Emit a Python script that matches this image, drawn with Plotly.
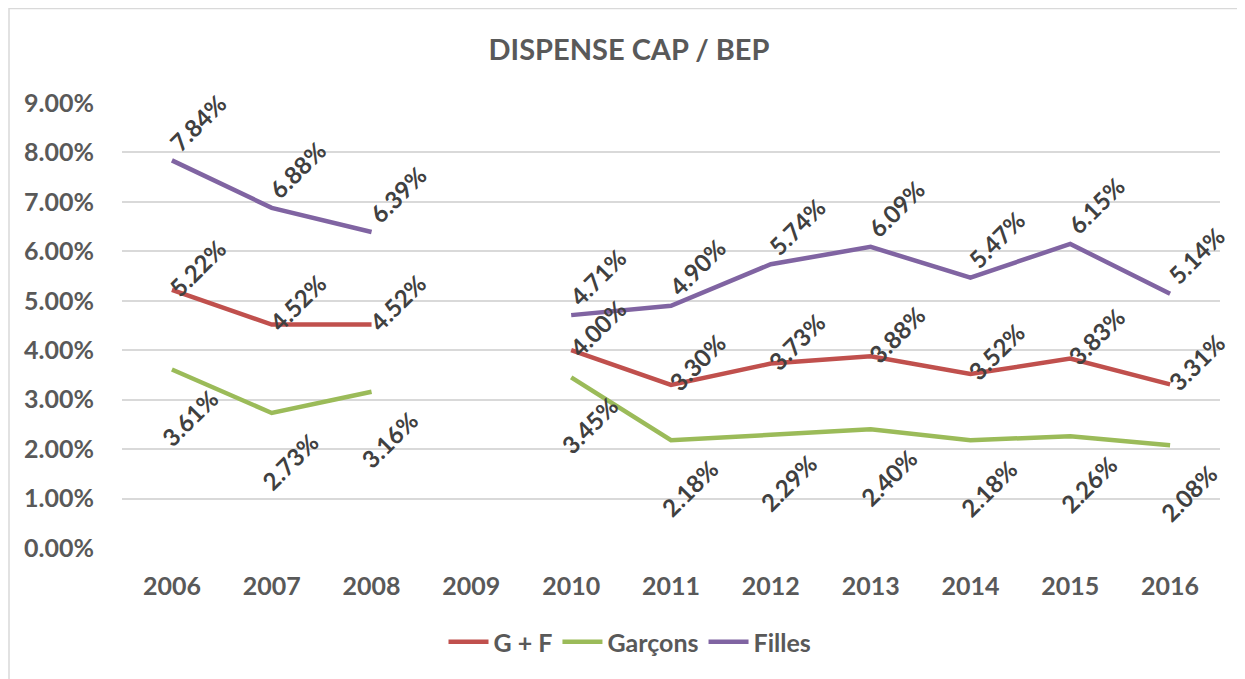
import plotly.graph_objects as go

years = ["2006", "2007", "2008", "2009", "2010", "2011", "2012", "2013", "2014", "2015", "2016"]
gf = [5.22, 4.52, 4.52, None, 4.00, 3.30, 3.73, 3.88, 3.52, 3.83, 3.31]
garcons = [3.61, 2.73, 3.16, None, 3.45, 2.18, 2.29, 2.40, 2.18, 2.26, 2.08]
filles = [7.84, 6.88, 6.39, None, 4.71, 4.90, 5.74, 6.09, 5.47, 6.15, 5.14]
y_ticks = [0, 1, 2, 3, 4, 5, 6, 7, 8, 9]

series = [
    ("G + F", gf, "#C0504D", (26, -22)),
    ("Garçons", garcons, "#9BBB59", (18, 48)),
    ("Filles", filles, "#8064A2", (26, -38)),
]

FONT = "Lato, 'Open Sans', sans-serif"
W, H = 1237, 671  # page body has an 8px margin
L, R, T, B = 114, 25, 95, 131
PW, PH = W - L - R, H - T - B

fig = go.Figure()
annotations = []
for name, vals, color, (dx, dy) in series:
    fig.add_trace(go.Scatter(
        x=years, y=vals, name=name, mode="lines",
        line=dict(color=color, width=4.5), connectgaps=False,
    ))
    for i, yv in enumerate(vals):
        if yv is None:
            continue
        annotations.append(dict(
            x=i, y=yv, xref="x", yref="y", text=f"{yv:.2f}%",
            showarrow=False, textangle=-45, xanchor="center", yanchor="middle",
            xshift=dx, yshift=-dy,
            font=dict(family=FONT, size=24, color="#404040", weight="bold"),
        ))

fig.update_layout(
    width=W, height=H,
    paper_bgcolor="white", plot_bgcolor="white",
    margin=dict(l=L, r=R, t=T, b=B),
    title=dict(text="<b>DISPENSE CAP / BEP</b>", x=(629 - 8) / W, xref="container",
               y=1 - (50 - 8) / H, yanchor="middle", xanchor="center",
               font=dict(family=FONT, size=29, color="#595959")),
    xaxis=dict(type="category", range=[-0.5, 10.5], showgrid=False, showline=False, zeroline=False,
               ticks="outside", ticklen=16, tickcolor="rgba(0,0,0,0)",
               tickfont=dict(family=FONT, size=25, color="#595959", weight="bold")),
    yaxis=dict(range=[0, 9], tickvals=y_ticks, ticktext=[f"{v:.2f}%" for v in y_ticks],
               showgrid=True, gridcolor="#D9D9D9", gridwidth=1.5, zeroline=False,
               showline=False, ticks="outside", ticklen=22, tickcolor="rgba(0,0,0,0)",
               tickfont=dict(family=FONT, size=25, color="#595959", weight="bold")),
    legend=dict(orientation="h", x=(630 - 122) / PW, xanchor="center",
                y=(548 - 642) / PH, yanchor="middle",
                font=dict(family=FONT, size=25, color="#595959", weight="bold"),
                itemwidth=40, traceorder="normal"),
    annotations=annotations,
    shapes=[dict(type="rect", xref="paper", yref="paper",
                 x0=(1 - L) / PW, x1=(1260 - 122) / PW,
                 y0=(548 - 700) / PH, y1=(548 - 8.5) / PH,
                 line=dict(color="#D9D9D9", width=1.5), fillcolor="rgba(0,0,0,0)", layer="below")],
)

fig.write_html("out.html")
